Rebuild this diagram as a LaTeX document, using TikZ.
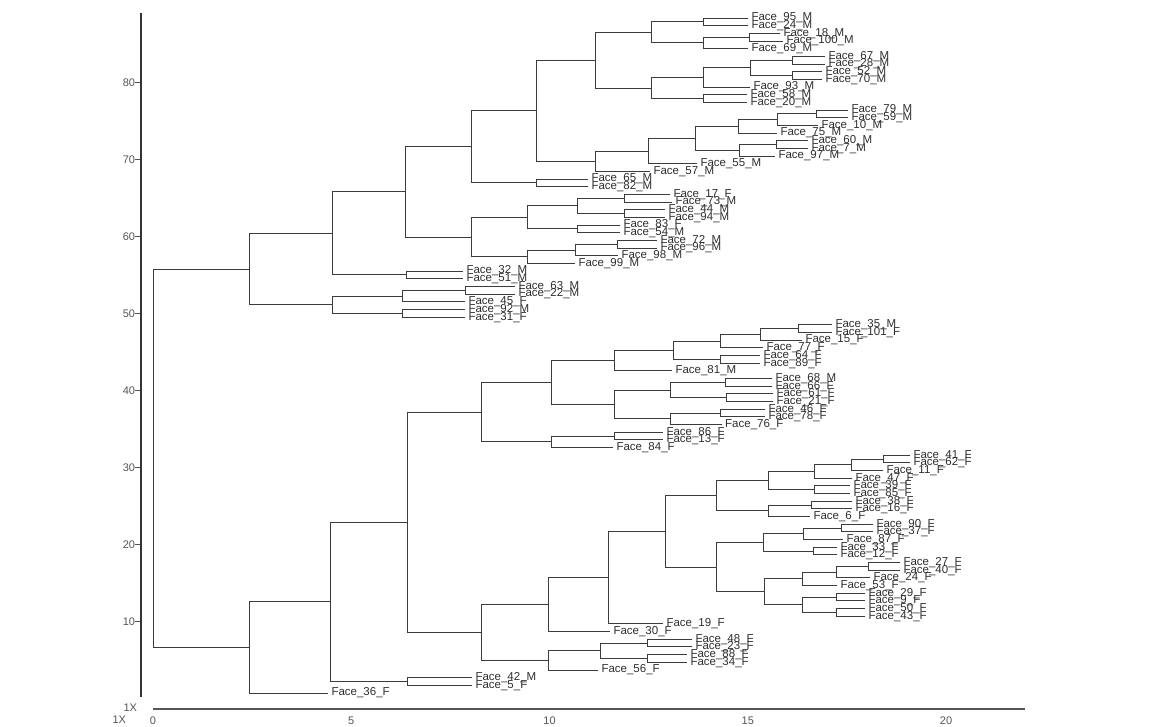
\documentclass[tikz,border=0pt]{standalone}
\usepackage{fontspec}
\newfontfamily\labfont{Liberation Sans}
\usetikzlibrary{calc}
\definecolor{linec}{HTML}{3C3C3C}
\definecolor{labc}{HTML}{2E2E2E}
\definecolor{axc}{HTML}{333333}
\definecolor{ticc}{HTML}{555555}
\tikzset{
  br/.style={draw=linec, line width=0.9pt},
  lbl/.style={anchor=west, inner xsep=3.5pt, inner ysep=0pt, outer sep=0pt,
    font=\labfont\fontsize{11.5}{12}\selectfont, text=labc},
  ticklbl/.style={inner sep=0pt, outer sep=0pt, font=\labfont\fontsize{11}{12}\selectfont, text=ticc},
  tickline/.style={draw=ticc, line width=0.8pt},
}
\newcommand\mkleaf[4]{\node[lbl] (l#1) at (#2,{18+(#1-1)*7.67}) {Face\_#3\_#4};}
\newcommand\mkin[4]{\path let \p1=(#3), \p2=(#4) in coordinate (#1) at (#2pt,{0.5*(\y1+\y2)});
  \draw[br] (#1) |- (#3); \draw[br] (#1) |- (#4);}
\begin{document}
\begin{tikzpicture}[x=1pt,y=-1pt]
\useasboundingbox (0,0) rectangle (1170,727);
% ---------- axes ----------
\coordinate (yt) at (141,13);
\coordinate (yb) at (141,697);
\draw[axc, line width=2.6pt] (yt) -- (yb);
\foreach \v in {10,20,...,80} {
  \node[ticklbl, anchor=east] (yl\v) at (135,{698.8-7.706*\v}) {\v};
  \draw[tickline] (yl\v.east) -- ++(5,0);
}
\coordinate (xa) at (153,709.3);
\coordinate (xb) at (1025,709.3);
\draw[ticc, line width=1.8pt] (xa) -- (xb);
\foreach \v in {0,5,10,15,20} {
  \node[ticklbl] (xl\v) at ({153+39.65*\v},721) {\v};
}
\node[ticklbl, anchor=east] (onex1) at (137,708) {1X};
\node[ticklbl, anchor=east] (onex2) at (126,720) {1X};
% ---------- leaves ----------
\mkleaf{1}{748}{95}{M}
\mkleaf{2}{748}{24}{M}
\mkleaf{3}{780}{18}{M}
\mkleaf{4}{783}{100}{M}
\mkleaf{5}{748}{69}{M}
\mkleaf{6}{825}{67}{M}
\mkleaf{7}{825}{28}{M}
\mkleaf{8}{822}{52}{M}
\mkleaf{9}{822}{70}{M}
\mkleaf{10}{750}{93}{M}
\mkleaf{11}{747}{58}{M}
\mkleaf{12}{747}{20}{M}
\mkleaf{13}{848}{79}{M}
\mkleaf{14}{848}{59}{M}
\mkleaf{15}{818}{10}{M}
\mkleaf{16}{777}{75}{M}
\mkleaf{17}{808}{60}{M}
\mkleaf{18}{808}{7}{M}
\mkleaf{19}{775}{97}{M}
\mkleaf{20}{697}{55}{M}
\mkleaf{21}{650}{57}{M}
\mkleaf{22}{588}{65}{M}
\mkleaf{23}{588}{82}{M}
\mkleaf{24}{670}{17}{F}
\mkleaf{25}{672}{73}{M}
\mkleaf{26}{665}{44}{M}
\mkleaf{27}{665}{94}{M}
\mkleaf{28}{620}{83}{F}
\mkleaf{29}{620}{54}{M}
\mkleaf{30}{657}{72}{M}
\mkleaf{31}{657}{96}{M}
\mkleaf{32}{618}{98}{M}
\mkleaf{33}{575}{99}{M}
\mkleaf{34}{463}{32}{M}
\mkleaf{35}{463}{51}{M}
\mkleaf{36}{515}{63}{M}
\mkleaf{37}{515}{22}{M}
\mkleaf{38}{465}{45}{F}
\mkleaf{39}{465}{92}{M}
\mkleaf{40}{465}{31}{F}
\mkleaf{41}{832}{35}{M}
\mkleaf{42}{832}{101}{F}
\mkleaf{43}{802}{15}{F}
\mkleaf{44}{763}{77}{F}
\mkleaf{45}{760}{64}{F}
\mkleaf{46}{760}{89}{F}
\mkleaf{47}{672}{81}{M}
\mkleaf{48}{772}{68}{M}
\mkleaf{49}{772}{66}{F}
\mkleaf{50}{773}{61}{F}
\mkleaf{51}{773}{21}{F}
\mkleaf{52}{765}{46}{F}
\mkleaf{53}{765}{78}{F}
\mkleaf{54}{721.7}{76}{F}
\mkleaf{55}{663}{86}{F}
\mkleaf{56}{663}{13}{F}
\mkleaf{57}{613}{84}{F}
\mkleaf{58}{910}{41}{F}
\mkleaf{59}{910}{62}{F}
\mkleaf{60}{883}{11}{F}
\mkleaf{61}{852}{47}{F}
\mkleaf{62}{850}{39}{F}
\mkleaf{63}{850}{85}{F}
\mkleaf{64}{852}{38}{F}
\mkleaf{65}{852}{16}{F}
\mkleaf{66}{810}{6}{F}
\mkleaf{67}{873}{90}{F}
\mkleaf{68}{873}{37}{F}
\mkleaf{69}{843}{87}{F}
\mkleaf{70}{837}{33}{F}
\mkleaf{71}{837}{12}{F}
\mkleaf{72}{900}{27}{F}
\mkleaf{73}{900}{40}{F}
\mkleaf{74}{870}{24}{F}
\mkleaf{75}{837}{53}{F}
\mkleaf{76}{865}{29}{F}
\mkleaf{77}{865}{9}{F}
\mkleaf{78}{865}{50}{F}
\mkleaf{79}{865}{43}{F}
\mkleaf{80}{663}{19}{F}
\mkleaf{81}{610}{30}{F}
\mkleaf{82}{692}{48}{F}
\mkleaf{83}{692}{23}{F}
\mkleaf{84}{687}{88}{F}
\mkleaf{85}{687}{34}{F}
\mkleaf{86}{598}{56}{F}
\mkleaf{87}{472}{42}{M}
\mkleaf{88}{472}{5}{F}
\mkleaf{89}{328}{36}{F}
% ---------- upper clusters ----------
\mkin{Pa}{703}{l1.west}{l2.west}
\mkin{P18}{749}{l3.west}{l4.west}
\mkin{F1}{703}{P18}{l5.west}
\mkin{E1}{651}{Pa}{F1}
\mkin{P67}{792}{l6.west}{l7.west}
\mkin{P52}{792}{l8.west}{l9.west}
\mkin{G1}{750}{P67}{P52}
\mkin{F2}{703}{G1}{l10.west}
\mkin{P58}{703}{l11.west}{l12.west}
\mkin{E2}{651}{F2}{P58}
\mkin{D1}{595}{E1}{E2}
\mkin{P79}{816}{l13.west}{l14.west}
\mkin{K1}{777.7}{P79}{l15.west}
\mkin{J1}{738}{K1}{l16.west}
\mkin{P60}{776}{l17.west}{l18.west}
\mkin{J2}{739}{P60}{l19.west}
\mkin{I1}{695}{J1}{J2}
\mkin{H1}{648}{I1}{l20.west}
\mkin{D2}{595}{H1}{l21.west}
\mkin{C3}{536.7}{D1}{D2}
\mkin{P65}{536.7}{l22.west}{l23.west}
\mkin{B1}{471.7}{C3}{P65}
\mkin{P17}{624}{l24.west}{l25.west}
\mkin{P44}{624}{l26.west}{l27.west}
\mkin{C1a}{577}{P17}{P44}
\mkin{P83}{577}{l28.west}{l29.west}
\mkin{C1}{527}{C1a}{P83}
\mkin{P72}{617}{l30.west}{l31.west}
\mkin{C2a}{575}{P72}{l32.west}
\mkin{C2}{527.7}{C2a}{l33.west}
\mkin{B2}{471.7}{C1}{C2}
\mkin{A1}{405}{B1}{B2}
\mkin{P32}{406}{l34.west}{l35.west}
\mkin{U1}{332.3}{A1}{P32}
\mkin{P63}{465}{l36.west}{l37.west}
\mkin{N45}{402.7}{P63}{l38.west}
\mkin{P92}{402.7}{l39.west}{l40.west}
\mkin{U2}{332.3}{N45}{P92}
\mkin{U}{249.3}{U1}{U2}
% ---------- lower clusters ----------
\mkin{P35}{798.3}{l41.west}{l42.west}
\mkin{S1}{760}{P35}{l43.west}
\mkin{R1}{720}{S1}{l44.west}
\mkin{P64}{720}{l45.west}{l46.west}
\mkin{Q1}{673.3}{R1}{P64}
\mkin{O1}{614.3}{Q1}{l47.west}
\mkin{P68}{725.7}{l48.west}{l49.west}
\mkin{P61}{726}{l50.west}{l51.west}
\mkin{T1}{670}{P68}{P61}
\mkin{P46}{720}{l52.west}{l53.west}
\mkin{T2}{670.7}{P46}{l54.west}
\mkin{O2}{614.3}{T1}{T2}
\mkin{N1}{551}{O1}{O2}
\mkin{P86}{614}{l55.west}{l56.west}
\mkin{N2}{551}{P86}{l57.west}
\mkin{M1}{481.7}{N1}{N2}
\mkin{P41}{883.3}{l58.west}{l59.west}
\mkin{AE}{851.7}{P41}{l60.west}
\mkin{AD1}{814}{AE}{l61.west}
\mkin{P39}{814}{l62.west}{l63.west}
\mkin{AC1}{768.3}{AD1}{P39}
\mkin{P38}{811.7}{l64.west}{l65.west}
\mkin{AC2}{768.3}{P38}{l66.west}
\mkin{X1}{716.7}{AC1}{AC2}
\mkin{P90}{841}{l67.west}{l68.west}
\mkin{Z1}{803.3}{P90}{l69.west}
\mkin{P33}{813.3}{l70.west}{l71.west}
\mkin{Y1}{763.3}{Z1}{P33}
\mkin{P27}{868}{l72.west}{l73.west}
\mkin{AB1}{836}{P27}{l74.west}
\mkin{AA1}{802.3}{AB1}{l75.west}
\mkin{P29}{836}{l76.west}{l77.west}
\mkin{P50}{836}{l78.west}{l79.west}
\mkin{AA2}{802.3}{P29}{P50}
\mkin{Y2}{764.3}{AA1}{AA2}
\mkin{X2}{716.7}{Y1}{Y2}
\mkin{W1}{665}{X1}{X2}
\mkin{V1}{608.3}{W1}{l80.west}
\mkin{N3}{548.3}{V1}{l81.west}
\mkin{P48}{647.7}{l82.west}{l83.west}
\mkin{P88}{647.7}{l84.west}{l85.west}
\mkin{AF}{600}{P48}{P88}
\mkin{N4}{548.3}{AF}{l86.west}
\mkin{M2}{481.7}{N3}{N4}
\mkin{L2}{407.3}{M1}{M2}
\mkin{P42}{407.3}{l87.west}{l88.west}
\mkin{L1}{330}{L2}{P42}
\mkin{Lw}{249.3}{L1}{l89.west}
\mkin{Root}{153.7}{U}{Lw}
\end{tikzpicture}
\end{document}
